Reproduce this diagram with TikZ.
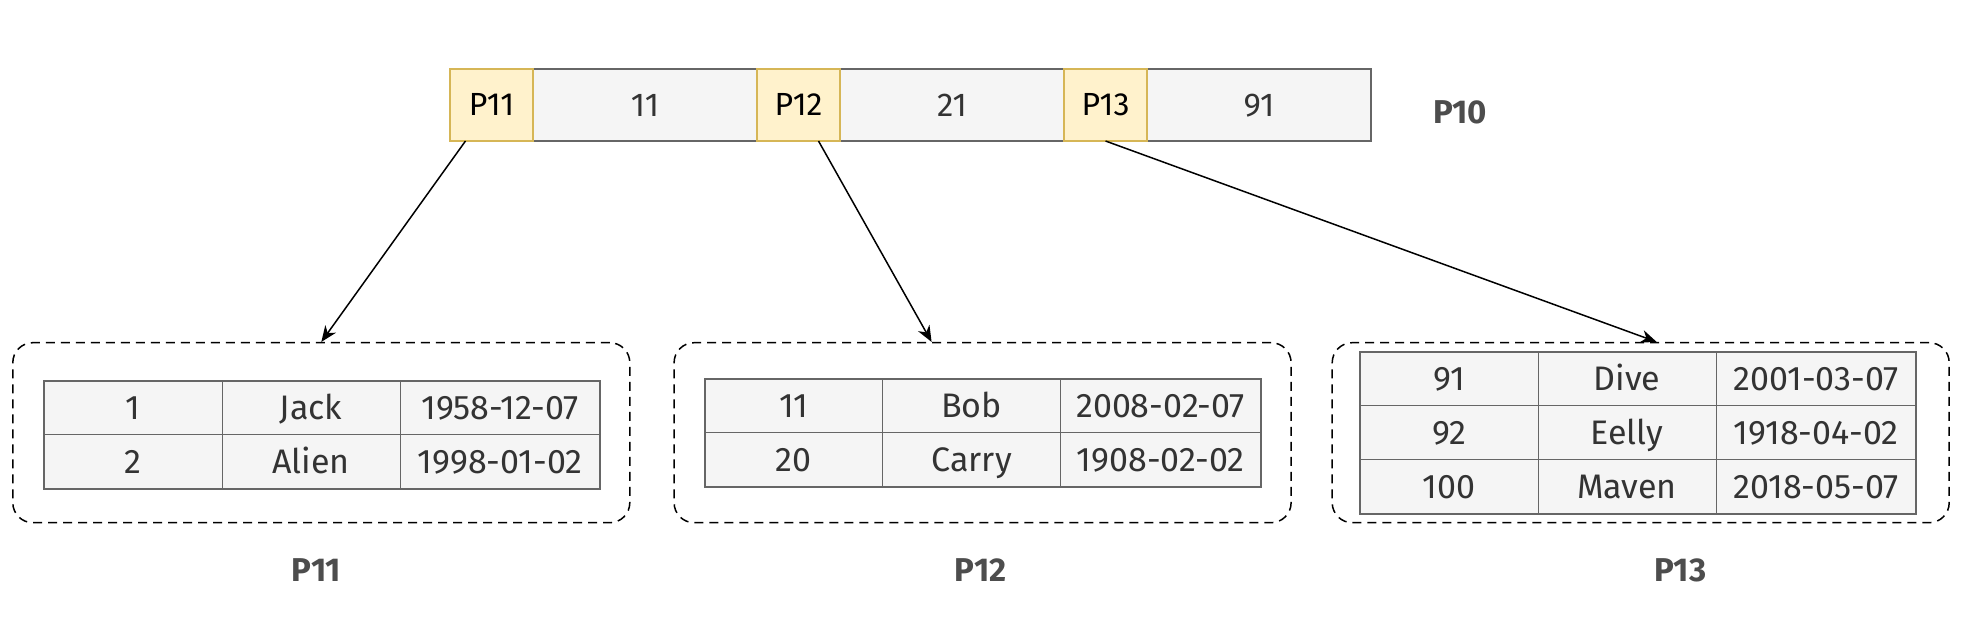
\documentclass[tikz,border=0pt]{standalone}
\usepackage{fontspec}
\setmainfont{Fira Sans}
\usetikzlibrary{arrows.meta,positioning}

\definecolor{keyfill}{HTML}{FFF2CC}
\definecolor{keyline}{HTML}{D6B656}
\definecolor{cellfill}{HTML}{F5F5F5}
\definecolor{cellline}{HTML}{666666}
\definecolor{celltext}{HTML}{333333}
\definecolor{labeltext}{HTML}{4D4D4D}

\begin{document}
\begin{tikzpicture}[x=0.5pt,y=-0.5pt,
	keycell/.style={draw=keyline, fill=keyfill, line width=1pt, minimum width=41.5pt, minimum height=36pt, inner sep=0pt, outer sep=0pt, text height=11pt, text depth=0pt, font=\fontsize{16}{19}\selectfont},
	valcell/.style={draw=cellline, fill=cellfill, line width=1pt, minimum width=112pt, minimum height=36pt, inner sep=0pt, outer sep=0pt, text height=11.4pt, text depth=0pt, text=celltext, font=\fontsize{16.5}{19}\selectfont},
	rowcell/.style={draw=cellline, fill=cellfill, line width=0.5pt, minimum height=27pt, inner sep=0pt, outer sep=0pt, text height=12pt, text depth=0.5pt, text=celltext, font=\fontsize{17}{20}\selectfont},
	pagebox/.style={draw, dashed, dash pattern=on 4.5pt off 3pt, line width=0.75pt, rounded corners=10pt, minimum width=308.5pt, minimum height=90pt},
	pagelabel/.style={text=labeltext, font=\bfseries\fontsize{16.5}{19}\selectfont},
	pointer/.style={-{Stealth[length=8pt,width=6.5pt,inset=2.5pt]}, line width=0.75pt}]
	\useasboundingbox (0,0) rectangle (1971,630);

	% Root page
	\foreach \k/\v [count=\i] in {P11/11, P12/21, P13/91} {
		\node[valcell] (v\i) at ({645+307*(\i-1)},105) {\v};
		\node[keycell, left=0pt of v\i] (k\i) {\k};
	}
	\node[pagelabel] (p10) at (1460,112) {P10};

	% Leaf pages
	\node[pagebox] (leaf1) at (321.3,432.7) {};
	\node[pagebox] (leaf2) at (982.6,432.7) {};
	\node[pagebox] (leaf3) at (1640.7,432.7) {};

	\foreach \id/\name/\date [count=\r] in {1/Jack/1958-12-07, 2/Alien/1998-01-02} {
		\node[rowcell, minimum width=89pt] (a-\r-1) at (133,{408+54*(\r-1)}) {\id};
		\node[rowcell, minimum width=89pt, right=0pt of a-\r-1] (a-\r-2) {\name};
		\node[rowcell, minimum width=100pt, right=0pt of a-\r-2] (a-\r-3) {\date};
	}
	\draw[cellline, line width=1pt] (a-1-1.north west) rectangle (a-2-3.south east);

	\foreach \id/\name/\date [count=\r] in {11/Bob/2008-02-07, 20/Carry/1908-02-02} {
		\node[rowcell, minimum width=89pt] (b-\r-1) at (793.6,{406+54*(\r-1)}) {\id};
		\node[rowcell, minimum width=89pt, right=0pt of b-\r-1] (b-\r-2) {\name};
		\node[rowcell, minimum width=100pt, right=0pt of b-\r-2] (b-\r-3) {\date};
	}
	\draw[cellline, line width=1pt] (b-1-1.north west) rectangle (b-2-3.south east);

	\foreach \id/\name/\date [count=\r] in {91/Dive/2001-03-07, 92/Eelly/1918-04-02, 100/Maven/2018-05-07} {
		\node[rowcell, minimum width=89pt] (c-\r-1) at (1449,{379+54*(\r-1)}) {\id};
		\node[rowcell, minimum width=89pt, right=0pt of c-\r-1] (c-\r-2) {\name};
		\node[rowcell, minimum width=100pt, right=0pt of c-\r-2] (c-\r-3) {\date};
	}
	\draw[cellline, line width=1pt] (c-1-1.north west) rectangle (c-3-3.south east);

	% Page labels
	\node[pagelabel] (p11) at (316.5,570.5) {P11};
	\node[pagelabel] (p12) at (980.7,570.5) {P12};
	\node[pagelabel] (p13) at (1680.3,570.5) {P13};

	% Pointers
	\draw[pointer] ([xshift=-13pt]k1.south) -- (leaf1.north);
	\draw[pointer] ([xshift=10pt]k2.south) -- ([xshift=-25.5pt]leaf2.north);
	\draw[pointer] (k3.south) -- ([xshift=8pt]leaf3.north);
\end{tikzpicture}
\end{document}
